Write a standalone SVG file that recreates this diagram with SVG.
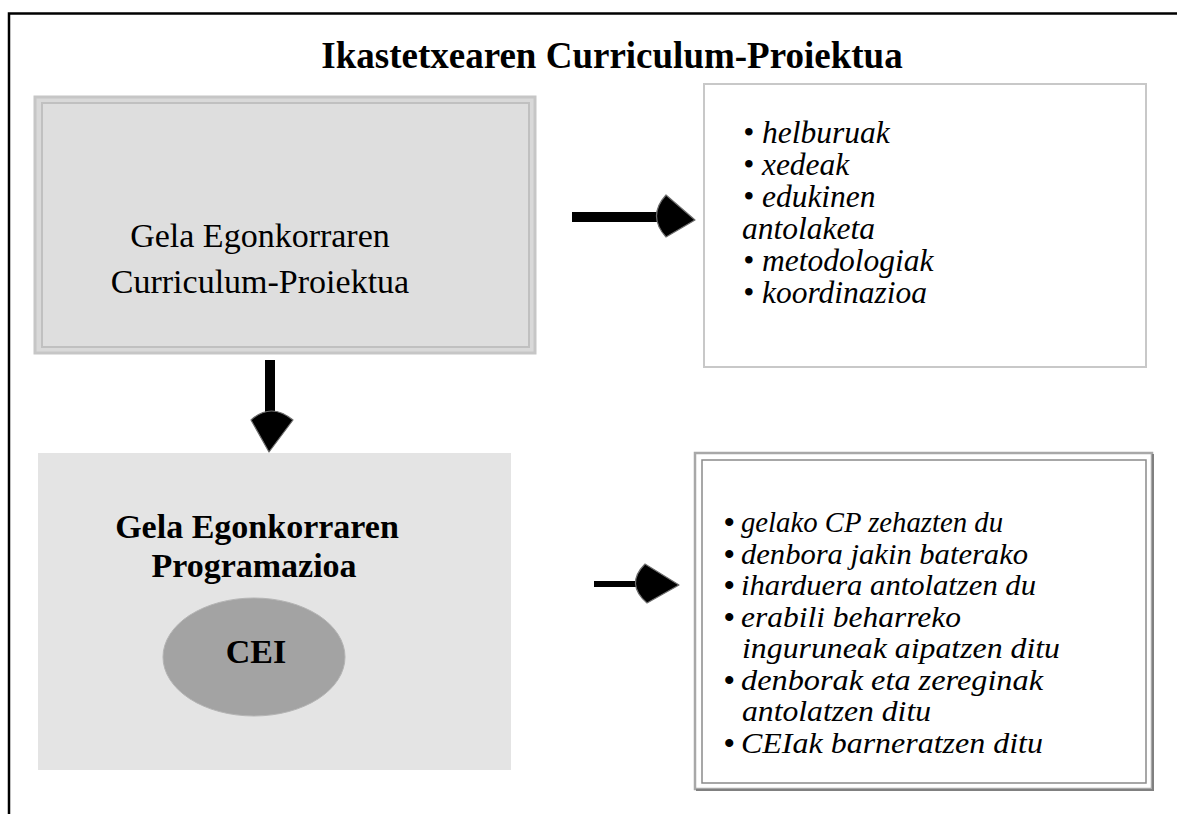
<svg xmlns="http://www.w3.org/2000/svg" width="1177" height="814" viewBox="0 0 1177 814">
<style>
.serif{font-family:"Liberation Serif","Times New Roman",serif;fill:#000}
.title{font-size:37px;font-weight:bold}
.reg{font-size:34px}
.bold{font-size:34px;font-weight:bold}
.it{font-size:31.5px;font-style:italic}
.it2{font-size:30px;font-style:italic}
.bul{font-size:30px;font-style:normal;font-weight:bold}
.head{fill:#000;stroke:#6e6e6e;stroke-width:1.2;stroke-linejoin:round}
</style>
<rect width="1177" height="814" fill="#fff"/>
<path d="M9,814 V13.5 H1177" fill="none" stroke="#000" stroke-width="2.5"/>
<text class="serif title" x="612" y="68" text-anchor="middle">Ikastetxearen Curriculum-Proiektua</text>

<g id="node-curriculum">
<rect x="35" y="97" width="500" height="256" fill="#d9d9d9" stroke="#c6c6c6" stroke-width="3"/>
<rect x="42" y="103" width="487" height="244" fill="#dedede" stroke="#c0c0c0" stroke-width="2"/>
<text class="serif reg" x="260" y="247" text-anchor="middle">Gela Egonkorraren</text>
<text class="serif reg" x="260" y="293" text-anchor="middle">Curriculum-Proiektua</text>
</g>

<g id="node-list1">
<rect x="704" y="84" width="442" height="283" fill="#fff" stroke="#c8c8c8" stroke-width="2"/>
<text class="serif it" x="743" y="143">• helburuak</text>
<text class="serif it" x="743" y="175">• xedeak</text>
<text class="serif it" x="743" y="207">• edukinen</text>
<text class="serif it" x="742" y="239">antolaketa</text>
<text class="serif it" x="743" y="271">• metodologiak</text>
<text class="serif it" x="743" y="303">• koordinazioa</text>
</g>

<g id="node-programazioa">
<rect x="38" y="453" width="473" height="317" fill="#e4e4e4"/>
<text class="serif bold" x="257" y="538" text-anchor="middle">Gela Egonkorraren</text>
<text class="serif bold" x="254" y="577" text-anchor="middle">Programazioa</text>
</g>

<g id="node-cei">
<ellipse cx="254" cy="657" rx="91" ry="59" fill="#a3a3a3" stroke="#b4b4b4" stroke-width="1"/>
<text class="serif bold" x="256" y="663" text-anchor="middle">CEI</text>
</g>

<g id="node-list2">
<rect x="695" y="453" width="457" height="336" fill="#fff" stroke="#a8a8a8" stroke-width="2.5"/>
<path d="M1153,454 V790 H696" fill="none" stroke="#808080" stroke-width="2"/>
<rect x="702" y="460" width="444" height="323" fill="#fff" stroke="#8a8a8a" stroke-width="1.5"/>
<g class="serif it2">
<text x="724" y="532"><tspan class="bul">•</tspan><tspan x="741" textLength="262" lengthAdjust="spacingAndGlyphs">gelako CP zehazten du</tspan></text>
<text x="724" y="563.5"><tspan class="bul">•</tspan><tspan x="741" textLength="287" lengthAdjust="spacingAndGlyphs">denbora jakin baterako</tspan></text>
<text x="724" y="595"><tspan class="bul">•</tspan><tspan x="741" textLength="295" lengthAdjust="spacingAndGlyphs">iharduera antolatzen du</tspan></text>
<text x="724" y="626.5"><tspan class="bul">•</tspan><tspan x="741" textLength="220" lengthAdjust="spacingAndGlyphs">erabili beharreko</tspan></text>
<text x="742" y="658" textLength="318" lengthAdjust="spacingAndGlyphs">inguruneak aipatzen ditu</text>
<text x="724" y="689.5"><tspan class="bul">•</tspan><tspan x="741" textLength="302" lengthAdjust="spacingAndGlyphs">denborak eta zereginak</tspan></text>
<text x="742" y="721" textLength="189" lengthAdjust="spacingAndGlyphs">antolatzen ditu</text>
<text x="724" y="752.5"><tspan class="bul">•</tspan><tspan x="741" textLength="302" lengthAdjust="spacingAndGlyphs">CEIak barneratzen ditu</tspan></text>
</g>
</g>

<g id="connectors">
<rect x="572" y="212" width="92" height="10" fill="#000"/>
<path class="head" d="M666,195 Q647,216 666,237 L695,220 Z"/>
<rect x="265" y="360" width="10" height="60" fill="#000"/>
<path class="head" d="M251,420 Q271,402 293,420 L269,452 Z"/>
<rect x="594" y="581" width="50" height="6" fill="#000"/>
<path class="head" d="M645,564 Q625,584 647,603 L679,585 Z"/>
</g>
</svg>
